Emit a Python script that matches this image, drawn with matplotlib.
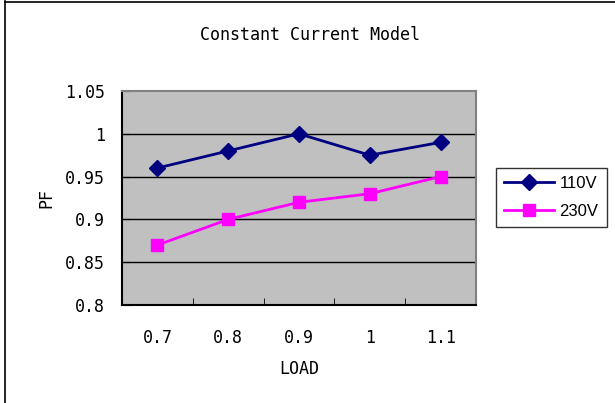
import numpy as np
import matplotlib
matplotlib.use('Agg')
import matplotlib.pyplot as plt
from matplotlib.lines import Line2D

# data
load_labels = ['0.7', '0.8', '0.9', '1', '1.1']
pf_110v = [0.96, 0.98, 1.0, 0.975, 0.99]
pf_230v = [0.87, 0.90, 0.92, 0.93, 0.95]
y_ticks = [0.8, 0.85, 0.9, 0.95, 1.0, 1.05]
y_tick_labels = ['0.8', '0.85', '0.9', '0.95', '1', '1.05']


def main():
    mono = 'DejaVu Sans Mono'
    fig = plt.figure(figsize=(6.15, 4.03), dpi=100)
    fig.patch.set_facecolor('white')

    # outer chart frame (left and top visible)
    fig.add_artist(Line2D([5 / 615, 5 / 615], [0, 1 - 1 / 403], color='black', lw=1.2))
    fig.add_artist(Line2D([5 / 615, 1], [1 - 1.5 / 403, 1 - 1.5 / 403], color='black', lw=1.2))

    ax = fig.add_axes([122 / 615, 1 - 305 / 403, 354 / 615, 214 / 403])
    ax.set_facecolor('#C0C0C0')
    x = np.arange(len(load_labels))

    ax.plot(x, pf_110v, color='#000080', lw=2, marker='D', ms=8,
            label='110V', zorder=3)
    ax.plot(x, pf_230v, color='#FF00FF', lw=2, marker='s', ms=9,
            label='230V', zorder=3)

    ax.set_xlim(-0.5, len(load_labels) - 0.5)
    ax.set_ylim(0.8, 1.05)
    ax.set_yticks(y_ticks)
    ax.set_yticklabels(y_tick_labels, fontfamily=mono, fontsize=12)
    for yv in y_ticks[1:-1]:
        ax.axhline(yv, color='black', lw=1, zorder=1)

    ax.set_xticks(x)
    ax.set_xticklabels(load_labels, fontfamily=mono, fontsize=12)
    ax.tick_params(axis='x', length=0, pad=17)
    ax.set_xticks(np.arange(0.5, len(load_labels) - 0.5, 1), minor=True)
    ax.tick_params(axis='x', which='minor', direction='in', length=5, color='black')
    ax.tick_params(axis='y', direction='in', length=6, pad=12, color='black')

    ax.spines['left'].set_color('black')
    ax.spines['bottom'].set_color('black')
    ax.spines['left'].set_linewidth(1.5)
    ax.spines['bottom'].set_linewidth(1.5)
    ax.spines['top'].set_color('#808080')
    ax.spines['right'].set_color('#808080')
    ax.spines['top'].set_linewidth(1.5)
    ax.spines['right'].set_linewidth(1.5)

    ax.set_xlabel('LOAD', fontfamily=mono, fontsize=12, labelpad=10)
    ax.set_ylabel('PF', fontfamily=mono, fontsize=12, labelpad=7)

    fig.text(310 / 615, 1 - 35 / 403, 'Constant Current Model', ha='center',
             va='center', fontfamily=mono, fontsize=12)

    leg = ax.legend(loc='upper left', bbox_to_anchor=(496 / 615, 1 - 168 / 403),
                    bbox_transform=fig.transFigure, frameon=True, fancybox=False,
                    prop={'family': 'Liberation Sans', 'size': 12},
                    handlelength=3.0, borderpad=0.5, labelspacing=0.75,
                    handletextpad=0.3, borderaxespad=0)
    leg.get_frame().set_edgecolor('black')
    leg.get_frame().set_linewidth(1)

    fig.savefig('out.png', dpi=100, facecolor='white')


if __name__ == '__main__':
    main()
